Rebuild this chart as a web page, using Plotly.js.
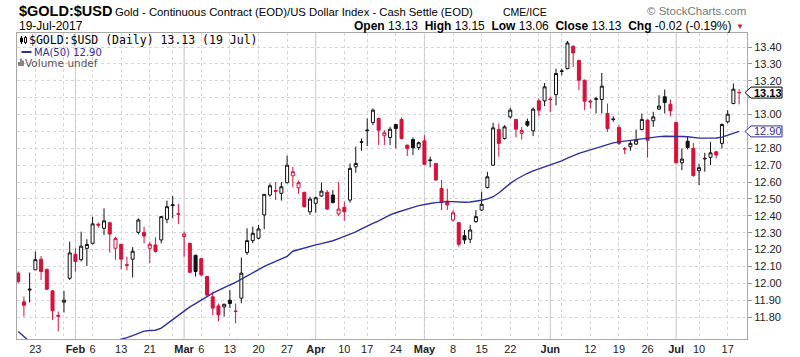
<!DOCTYPE html>
<html><head><meta charset="utf-8">
<script src="https://cdn.plot.ly/plotly-3.0.1.min.js"></script>
<style>html,body{margin:0;padding:0;background:#fff;}#chart{width:800px;height:357px;}</style>
</head><body><div id="chart"></div>
<script>
const dates = [
'2017-01-18','2017-01-19','2017-01-20','2017-01-23','2017-01-24','2017-01-25','2017-01-26','2017-01-27','2017-01-30','2017-01-31',
'2017-02-01','2017-02-02','2017-02-03','2017-02-06','2017-02-07','2017-02-08','2017-02-09','2017-02-10','2017-02-13','2017-02-14',
'2017-02-15','2017-02-16','2017-02-17','2017-02-21','2017-02-22','2017-02-23','2017-02-24','2017-02-27','2017-02-28',
'2017-03-01','2017-03-02','2017-03-03','2017-03-06','2017-03-07','2017-03-08','2017-03-09','2017-03-10','2017-03-13','2017-03-14',
'2017-03-15','2017-03-16','2017-03-17','2017-03-20','2017-03-21','2017-03-22','2017-03-23','2017-03-24','2017-03-27','2017-03-28',
'2017-03-29','2017-03-30','2017-03-31',
'2017-04-03','2017-04-04','2017-04-05','2017-04-06','2017-04-07','2017-04-10','2017-04-11','2017-04-12','2017-04-13','2017-04-17',
'2017-04-18','2017-04-19','2017-04-20','2017-04-21','2017-04-24','2017-04-25','2017-04-26','2017-04-27','2017-04-28',
'2017-05-01','2017-05-02','2017-05-03','2017-05-04','2017-05-05','2017-05-08','2017-05-09','2017-05-10','2017-05-11','2017-05-12',
'2017-05-15','2017-05-16','2017-05-17','2017-05-18','2017-05-19','2017-05-22','2017-05-23','2017-05-24','2017-05-25','2017-05-26',
'2017-05-30','2017-05-31',
'2017-06-01','2017-06-02','2017-06-05','2017-06-06','2017-06-07','2017-06-08','2017-06-09','2017-06-12','2017-06-13','2017-06-14',
'2017-06-15','2017-06-16','2017-06-19','2017-06-20','2017-06-21','2017-06-22','2017-06-23','2017-06-26','2017-06-27','2017-06-28',
'2017-06-29','2017-06-30',
'2017-07-03','2017-07-05','2017-07-06','2017-07-07','2017-07-10','2017-07-11','2017-07-12','2017-07-13','2017-07-14','2017-07-17',
'2017-07-18','2017-07-19'];

const openP = [
12.06,11.89,11.96,12.08,12.143,12.083,11.955,11.81,11.888,12.03,
12.172,12.14,12.207,12.237,12.35,12.326,12.359,12.208,12.231,12.11,
12.143,12.302,12.302,12.207,12.227,12.257,12.379,12.46,12.412,12.277,
12.237,12.166,12.146,12.04,11.92,11.866,11.86,11.90,11.836,11.912,
12.182,12.253,12.267,12.405,12.523,12.55,12.533,12.596,12.637,12.566,
12.539,12.424,12.474,12.517,12.539,12.523,12.411,12.45,12.493,12.69,
12.835,12.904,12.953,12.976,12.874,12.864,12.941,12.971,12.819,12.852,
12.805,12.844,12.727,12.71,12.562,12.487,12.375,12.359,12.282,12.261,
12.365,12.434,12.568,12.70,12.911,12.858,12.986,12.971,12.888,12.959,
12.903,13.081,13.081,13.092,13.118,13.255,13.272,13.404,13.32,13.203,
13.08,13.09,13.089,13.006,12.97,12.923,12.798,12.809,12.825,12.911,
12.967,12.963,13.032,13.105,13.061,12.953,12.714,12.842,12.799,12.667,
12.737,12.746,12.779,12.829,12.957,13.065,13.13];

const highP = [
12.07,11.922,12.064,12.188,12.162,12.085,11.96,11.833,11.955,12.247,
12.208,12.306,12.261,12.395,12.36,12.444,12.36,12.277,12.232,12.158,
12.214,12.385,12.336,12.247,12.273,12.399,12.49,12.517,12.47,12.306,
12.241,12.17,12.15,12.045,11.95,11.88,11.878,11.96,11.88,12.153,
12.326,12.336,12.346,12.527,12.592,12.60,12.60,12.756,12.69,12.61,
12.543,12.513,12.513,12.598,12.553,12.553,12.60,12.484,12.71,12.81,
12.858,12.976,13.036,12.982,12.907,12.927,12.941,12.982,12.82,12.864,
12.84,12.878,12.75,12.71,12.612,12.562,12.434,12.365,12.316,12.346,
12.434,12.543,12.661,12.951,12.947,12.937,13.04,12.971,12.927,12.976,
13.042,13.095,13.187,13.105,13.272,13.272,13.436,13.41,13.325,13.207,
13.089,13.105,13.246,13.065,12.99,12.937,12.808,12.844,12.911,13.006,
12.971,13.016,13.114,13.148,13.089,12.957,12.799,12.872,12.832,12.71,
12.773,12.838,12.785,12.947,13.026,13.184,13.15];

const lowP = [
12.00,11.803,11.886,12.08,12.02,11.96,11.784,11.715,11.827,12.02,
12.07,12.13,12.103,12.23,12.33,12.286,12.182,12.139,12.083,12.076,
12.034,12.29,12.237,12.119,12.182,12.237,12.356,12.385,12.351,12.158,
12.06,12.04,12.04,11.92,11.81,11.774,11.803,11.853,11.764,11.882,
12.168,12.237,12.261,12.32,12.513,12.493,12.49,12.592,12.57,12.53,
12.45,12.405,12.419,12.513,12.434,12.474,12.398,12.371,12.478,12.655,
12.785,12.813,12.937,12.819,12.819,12.819,12.80,12.852,12.754,12.76,
12.79,12.70,12.687,12.608,12.434,12.434,12.365,12.217,12.233,12.237,
12.359,12.43,12.562,12.697,12.75,12.852,12.976,12.864,12.852,12.927,
12.872,12.99,13.05,13.016,13.055,13.232,13.268,13.282,13.144,13.026,
13.035,13.006,13.006,12.898,12.957,12.818,12.765,12.785,12.819,12.907,
12.744,12.927,13.026,13.006,12.99,12.71,12.671,12.793,12.632,12.582,
12.661,12.70,12.74,12.799,12.947,13.061,13.06];

const closeP = [
12.011,11.87,11.965,12.14,12.07,11.965,11.837,11.805,11.90,12.18,
12.129,12.22,12.23,12.352,12.345,12.37,12.292,12.265,12.143,12.107,
12.19,12.375,12.28,12.231,12.188,12.395,12.454,12.465,12.409,12.292,
12.065,12.07,12.05,11.93,11.853,11.813,11.876,11.88,11.833,12.06,
12.253,12.296,12.322,12.527,12.578,12.545,12.572,12.70,12.661,12.596,
12.454,12.499,12.507,12.546,12.44,12.478,12.44,12.424,12.681,12.71,
12.838,12.907,13.026,12.907,12.892,12.913,12.917,12.858,12.799,12.803,
12.833,12.705,12.73,12.612,12.478,12.464,12.418,12.231,12.257,12.316,
12.395,12.468,12.631,12.921,12.829,12.927,13.026,12.913,12.905,12.937,
13.032,13.026,13.164,13.089,13.243,13.258,13.424,13.365,13.203,13.079,
13.075,13.093,13.168,12.917,12.973,12.829,12.795,12.829,12.848,12.971,
12.848,12.986,13.05,13.071,13.022,12.714,12.736,12.805,12.638,12.685,
12.74,12.773,12.76,12.941,13.002,13.15,13.13];

const ma50 = [
11.715,11.685,11.655,11.64,11.63,11.62,11.615,11.61,11.605,11.60,
11.60,11.60,11.605,11.615,11.625,11.64,11.65,11.66,11.668,11.678,
11.69,11.705,11.717,11.72,11.722,11.735,11.76,11.79,11.81,11.838,
11.86,11.88,11.90,11.925,11.942,11.958,11.972,11.99,12.005,12.025,
12.04,12.06,12.08,12.10,12.115,12.13,12.145,12.16,12.19,12.20,
12.21,12.22,12.228,12.235,12.243,12.252,12.265,12.277,12.29,12.305,
12.322,12.34,12.355,12.37,12.39,12.405,12.418,12.43,12.44,12.45,
12.46,12.468,12.473,12.478,12.482,12.484,12.484,12.481,12.48,12.482,
12.486,12.492,12.50,12.513,12.535,12.565,12.592,12.615,12.635,12.652,
12.666,12.678,12.69,12.703,12.715,12.725,12.742,12.758,12.77,12.78,
12.79,12.802,12.814,12.824,12.832,12.838,12.843,12.848,12.853,12.858,
12.862,12.866,12.869,12.871,12.872,12.872,12.87,12.868,12.862,12.86,
12.86,12.86,12.861,12.866,12.876,12.889,12.90];

const tickDates = ['2017-01-23','2017-01-30','2017-02-01','2017-02-06','2017-02-13','2017-02-21','2017-02-27',
'2017-03-01','2017-03-06','2017-03-13','2017-03-20','2017-03-27','2017-04-03','2017-04-10','2017-04-17','2017-04-24',
'2017-05-01','2017-05-08','2017-05-15','2017-05-22','2017-05-30','2017-06-01','2017-06-05','2017-06-12','2017-06-19',
'2017-06-26','2017-07-03','2017-07-10','2017-07-17'];
const tickLabels = ['23','','Feb','6','13','21','','Mar','6','13','20','27','Apr','10','17','24',
'May','8','15','22','','Jun','','12','19','26','Jul','10','17'];
const monthStarts = ['2017-02-01','2017-03-01','2017-04-03','2017-05-01','2017-06-01','2017-07-03'];
const yTicks = [11.8,11.9,12.0,12.1,12.2,12.3,12.4,12.5,12.6,12.7,12.8,12.9,13.0,13.1,13.2,13.3,13.4];

const lastClose = 13.13, lastMA = 12.90;

const RED = '#d4123c', BLK = '#111111', BLUE = '#2e2e9c';
const PL = 17, PR = 747, PT = 33, PB = 339;
const YMIN = 11.670, YMAX = 13.483;
const px = x => (x - PL) / (PR - PL);
const py = y => (PB - y) / (PB - PT);

const isRed = closeP.map((c, i) => i === 0 ? true : c < closeP[i - 1]);
const pick = (arr, want) => arr.filter((_, i) => isRed[i] === want);
function candle(want, col) {
  return {type:'candlestick', x: pick(dates,want), open: pick(openP,want), high: pick(highP,want),
    low: pick(lowP,want), close: pick(closeP,want), whiskerwidth: 0, hoverinfo:'skip', showlegend:false,
    increasing:{line:{color:col,width:1}, fillcolor:'#ffffff'},
    decreasing:{line:{color:col,width:1}, fillcolor:col}};
}
const maTrace = {type:'scatter', mode:'lines', x: dates, y: ma50, line:{color:BLUE, width:1.4}, hoverinfo:'skip', showlegend:false};

const ARIAL = 'Arial, "Liberation Sans", sans-serif';
const ann = [];
function txt(x, y, text, size, color, anchor, fam) {
  ann.push({xref:'paper', yref:'paper', x: px(x), y: py(y), text: text, showarrow:false,
    xanchor: anchor || 'left', yanchor:'middle', borderpad:0,
    font:{family: fam || ARIAL, size: size, color: color || '#000'}});
}
txt(18, 11, '<b>$GOLD:$USD</b>', 14.5, '#000');
txt(114, 12, 'Gold - Continuous Contract (EOD)/US Dollar Index - Cash Settle (EOD)', 11.3, '#000');
txt(502, 12, 'CME/ICE', 10.5, '#000');
txt(747, 11, '\u00a9 StockCharts.com', 11.5, '#777', 'right');
txt(18, 25.5, '19-Jul-2017', 12, '#000');
const sp = '\u00a0\u00a0';
txt(733, 25.5, '<b>Open</b> ' + openP[126].toFixed(2) + sp + '<b>High</b> ' + highP[126].toFixed(2) + sp +
  '<b>Low</b> ' + lowP[126].toFixed(2) + sp + '<b>Close</b> ' + closeP[126].toFixed(2) + sp +
  '<b>Chg</b> -0.02 (-0.19%)', 12, '#000', 'right');
txt(740, 26, '\u25BC', 8, RED, 'center');
txt(28, 39.5, '$GOLD:$USD (Daily) ' + lastClose.toFixed(2) + ' (19 Jul)', 11.5, '#000', 'left', '"DejaVu Sans Mono", monospace');
txt(33, 52, 'MA(50) ' + lastMA.toFixed(2), 10, BLUE, 'left', '"DejaVu Sans", sans-serif');
txt(24, 63, 'Volume undef', 10.5, '#555', 'left', '"DejaVu Sans", sans-serif');

// price markers on right axis (they cover the 13.10 and 12.90 axis labels, as in the original)
function marker(v, col, bold) {
  ann.push({xref:'paper', yref:'y', x: px(768), y: v, text: bold ? '<b>' + v.toFixed(2) + '</b>' : v.toFixed(2),
    showarrow:false, xanchor:'center', yanchor:'middle', font:{family:ARIAL, size:11, color:col}});
}
marker(lastClose, '#000', true);
marker(lastMA, BLUE, false);
const hiddenTicks = [13.1, 12.9];
const yTickText = yTicks.map(v => hiddenTicks.some(t => Math.abs(t - v) < 1e-9) ? '' : v.toFixed(2));

const shapes = [];
monthStarts.forEach(d => {
  const i = dates.indexOf(d);
  shapes.push({type:'line', xref:'x', yref:'paper', x0:i, x1:i, y0:0, y1:1, layer:'below', line:{color:'#c4c4c4', width:1}});
});
const h = 5.5 / ((PB - PT) / (YMAX - YMIN));
function tag(v, col) {
  const a = px(745), b = px(751), c = px(782);
  shapes.push({type:'path', xref:'paper', yref:'y', layer:'above', fillcolor:'#ffffff', line:{color:col, width:1},
    path:`M ${a},${v} L ${b},${v + h} L ${c},${v + h} L ${c},${v - h} L ${b},${v - h} Z`});
}
tag(lastClose, '#000');
tag(lastMA, BLUE);
// legend icons
shapes.push({type:'line', xref:'paper', yref:'paper', x0:px(21.5), x1:px(31.5), y0:py(52), y1:py(52), line:{color:BLUE, width:2}});
[[19,66,1.3],[21,66,2.5],[23,66,1.8]].forEach(([x,y,w]) => {
  shapes.push({type:'rect', xref:'paper', yref:'paper', x0:px(x - 0.7), x1:px(x + 0.7), y0:py(y), y1:py(y - 3 * w), fillcolor:'#555', line:{width:0}});
});
shapes.push({type:'line', xref:'paper', yref:'paper', x0:px(21.5), x1:px(21.5), y0:py(36), y1:py(44), line:{color:'#000', width:1}});
shapes.push({type:'rect', xref:'paper', yref:'paper', x0:px(20.5), x1:px(22.5), y0:py(38), y1:py(42), fillcolor:'#000', line:{color:'#000', width:1}});
shapes.push({type:'line', xref:'paper', yref:'paper', x0:px(25.5), x1:px(25.5), y0:py(36), y1:py(44), line:{color:'#000', width:1}});
shapes.push({type:'rect', xref:'paper', yref:'paper', x0:px(24.5), x1:px(26.5), y0:py(37.5), y1:py(42.5), fillcolor:'#fff', line:{color:'#000', width:1}});

const layout = {
  width: 800, height: 357, margin:{l:PL, r:800 - PR, t:PT, b:357 - PB, pad:0},
  paper_bgcolor:'#fff', plot_bgcolor:'#fff', showlegend:false, boxgap:0.25,
  xaxis:{type:'category', categoryorder:'array', categoryarray:dates, range:[-0.21, 127.38],
    tickvals: tickDates, ticktext: tickLabels.map(t => /^[A-Z]/.test(t) ? '<b>' + t + '</b>' : t),
    ticks:'', tickfont:{family:ARIAL, size:11, color:'#222'},
    showgrid:true, gridcolor:'#d6d6d6', griddash:'dot', gridwidth:1,
    showline:true, mirror:true, linecolor:'#a8a8a8', linewidth:1, rangeslider:{visible:false}, fixedrange:true},
  yaxis:{side:'right', range:[YMIN, YMAX], tickvals:yTicks, ticktext:yTickText,
    ticks:'outside', ticklen:4, tickcolor:'#999', tickfont:{family:ARIAL, size:11, color:'#222'},
    showgrid:true, gridcolor:'#d6d6d6', griddash:'dot', gridwidth:1, zeroline:false,
    showline:true, mirror:true, linecolor:'#a8a8a8', linewidth:1, fixedrange:true},
  annotations: ann, shapes: shapes
};
Plotly.newPlot('chart', [maTrace, candle(false, BLK), candle(true, RED)], layout, {staticPlot:true, displayModeBar:false});
</script></body></html>
